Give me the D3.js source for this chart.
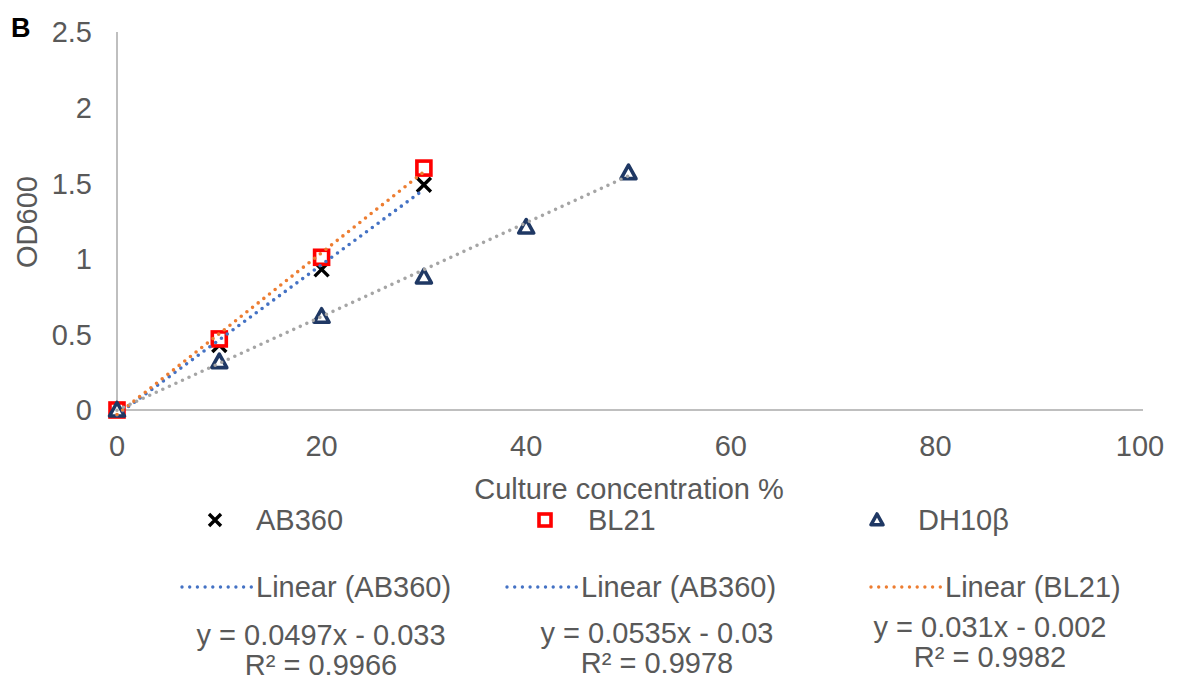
<!DOCTYPE html>
<html>
<head>
<meta charset="utf-8">
<script src="https://cdn.jsdelivr.net/npm/d3@7"></script>
<style>
  html, body { margin: 0; padding: 0; background: #fff; }
  svg { display: block; }
  text { font-family: "Liberation Sans", Arial, sans-serif; fill: #595959; }
</style>
</head>
<body>
<svg id="chart" width="1180" height="682"></svg>
<script>
// Culture concentration (%) on the x axis
const concentration = [0, 10, 20, 30, 40, 50];

// Measured OD600 per strain
const seriesNames = ["AB360", "BL21", "DH10β"];
const ab360 = [0, 0.43, 0.93, 1.49];
const bl21 = [0, 0.47, 1.01, 1.60];
const dh10b = [0, 0.32, 0.62, 0.88, 1.21, 1.57];

// Linear fits (slope, intercept, R²) for AB360, BL21, DH10β
const fitSlopes = [0.0497, 0.0535, 0.031];
const fitIntercepts = [-0.033, -0.03, -0.002];
const fitR2 = [0.9966, 0.9978, 0.9982];
const fitLegendLabels = ["Linear (AB360)", "Linear (AB360)", "Linear (BL21)"];

// Axis ticks
const xTicks = [0, 20, 40, 60, 80, 100];
const yTicks = [0, 0.5, 1, 1.5, 2, 2.5];

const svg = d3.select("#chart");

const x = d3.scaleLinear().domain([0, 100]).range([117, 1140]);
const y = d3.scaleLinear().domain([0, 2.5]).range([410, 32]);

const markerColors = ["#000000", "#ff0000", "#1f3864"];
const fitColors = ["#4472c4", "#ed7d31", "#a5a5a5"];
const fitLegendColors = ["#4472c4", "#4472c4", "#ed7d31"];
const fontSize = "29px";

// Panel letter
svg.append("text").attr("x", 11).attr("y", 37)
  .style("font-weight", "bold").style("font-size", "27px").style("fill", "#000")
  .text("B");

// Axis lines
svg.append("line").attr("x1", x(0)).attr("x2", 1143).attr("y1", y(0)).attr("y2", y(0))
  .attr("stroke", "#bfbfbf").attr("stroke-width", 2);
svg.append("line").attr("x1", x(0)).attr("x2", x(0)).attr("y1", y(2.5)).attr("y2", y(0))
  .attr("stroke", "#bfbfbf").attr("stroke-width", 2);

// Tick labels
svg.append("g").selectAll("text").data(yTicks).join("text")
  .attr("x", x(0) - 25).attr("y", d => y(d)).attr("dy", "0.36em")
  .attr("text-anchor", "end").style("font-size", fontSize)
  .text(d => d3.format("")(d));

svg.append("g").selectAll("text").data(xTicks).join("text")
  .attr("x", d => x(d)).attr("y", 446).attr("dy", "0.36em")
  .attr("text-anchor", "middle").style("font-size", fontSize)
  .text(d => d);

// Axis titles
svg.append("text").attr("x", 629).attr("y", 489).attr("dy", "0.36em")
  .attr("text-anchor", "middle").style("font-size", fontSize)
  .text("Culture concentration %");
svg.append("text").attr("transform", "translate(27,222) rotate(-90)").attr("dy", "0.36em")
  .attr("text-anchor", "middle").style("font-size", fontSize)
  .text("OD600");

// Marker shapes
function drawMarker(g, kind, cx, cy, s, color) {
  const h = s / 2;
  if (kind === 0) {
    g.append("path").attr("d", `M${cx - h},${cy - h}L${cx + h},${cy + h}M${cx - h},${cy + h}L${cx + h},${cy - h}`)
      .attr("stroke", color).attr("stroke-width", 3.4).attr("fill", "none");
  } else if (kind === 1) {
    g.append("rect").attr("x", cx - h).attr("y", cy - h).attr("width", s).attr("height", s)
      .attr("stroke", color).attr("stroke-width", 3.6).attr("fill", "#fff");
  } else {
    g.append("path").attr("d", `M${cx},${cy - h}L${cx + h},${cy + h * 0.8}L${cx - h},${cy + h * 0.8}Z`)
      .attr("stroke", color).attr("stroke-width", 3.6).attr("stroke-linejoin", "round").attr("fill", "#fff");
  }
}

// Data points
const allSeries = [ab360, bl21, dh10b];
const pts = svg.append("g");
allSeries.forEach((vals, k) => {
  vals.forEach((v, i) => drawMarker(pts, k, x(concentration[i]), y(v), k === 2 ? 15 : 14, markerColors[k]));
});

// Dotted trend lines over each series' range
const fits = svg.append("g");
allSeries.forEach((vals, k) => {
  const x0 = concentration[0], x1 = concentration[vals.length - 1];
  fits.append("line")
    .attr("x1", x(x0)).attr("y1", y(fitSlopes[k] * x0 + fitIntercepts[k]))
    .attr("x2", x(x1)).attr("y2", y(fitSlopes[k] * x1 + fitIntercepts[k]))
    .attr("stroke", fitColors[k]).attr("stroke-width", 3.6)
    .attr("stroke-linecap", "round").attr("stroke-dasharray", "0 7.2");
});

// Legend: markers
const legendMarkerX = [215, 545, 877];
const legendTextX = [256, 588, 918];
const leg = svg.append("g");
seriesNames.forEach((name, k) => {
  drawMarker(leg, k, legendMarkerX[k], 520, 12, markerColors[k]);
  leg.append("text").attr("x", legendTextX[k]).attr("y", 520).attr("dy", "0.36em")
    .style("font-size", fontSize).text(name);
});

// Legend: trend lines
const fitLegendX = [182, 507, 871];
fitLegendLabels.forEach((label, k) => {
  leg.append("line").attr("x1", fitLegendX[k]).attr("x2", fitLegendX[k] + 70)
    .attr("y1", 587).attr("y2", 587)
    .attr("stroke", fitLegendColors[k]).attr("stroke-width", 3.4)
    .attr("stroke-linecap", "round").attr("stroke-dasharray", "0 7.7");
  leg.append("text").attr("x", fitLegendX[k] + 74).attr("y", 587).attr("dy", "0.36em")
    .style("font-size", fontSize).text(label);
});

// Fit equations
const eqX = [321, 657, 990];
const eqY = [635, 633, 627];
const fmtSigned = v => (v < 0 ? " - " : " + ") + Math.abs(v);
fitSlopes.forEach((m, k) => {
  leg.append("text").attr("x", eqX[k]).attr("y", eqY[k]).attr("dy", "0.36em")
    .attr("text-anchor", "middle").style("font-size", fontSize)
    .text(`y = ${m}x${fmtSigned(fitIntercepts[k])}`);
  leg.append("text").attr("x", eqX[k]).attr("y", eqY[k] + 30).attr("dy", "0.36em")
    .attr("text-anchor", "middle").style("font-size", fontSize)
    .text(`R² = ${fitR2[k]}`);
});
</script>
</body>
</html>
